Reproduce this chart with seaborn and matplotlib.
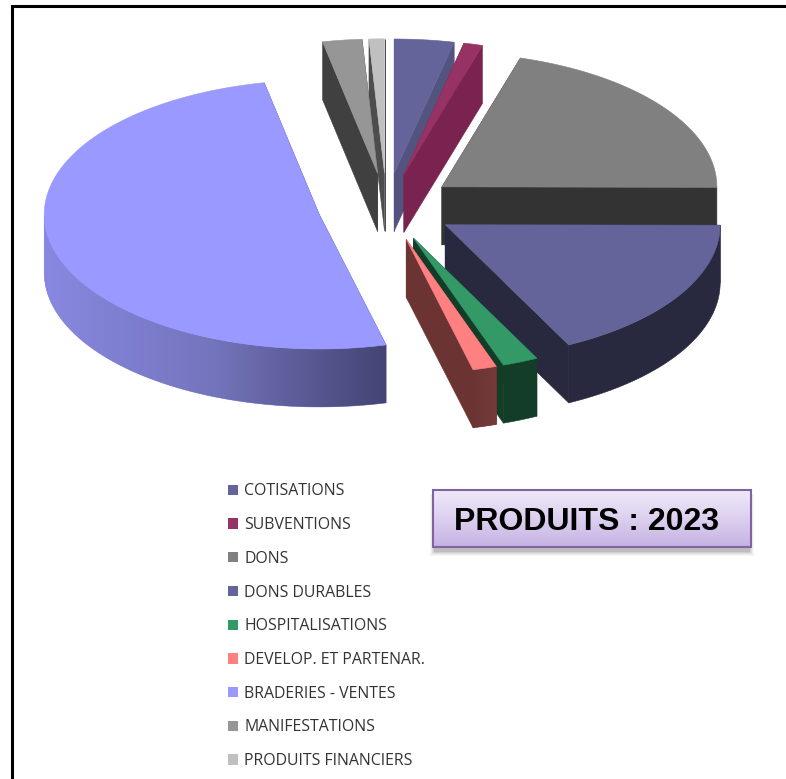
"""Produits 2023: exploded 3D pie chart with legend and title box."""

import matplotlib.pyplot as plt
import numpy as np
import seaborn as sns
from matplotlib.colors import ListedColormap
from matplotlib.patches import Patch, Polygon, Rectangle

sns.set_theme(style="white")

labels = [
    "COTISATIONS",
    "SUBVENTIONS",
    "DONS",
    "DONS DURABLES",
    "HOSPITALISATIONS",
    "DEVELOP. ET PARTENAR.",
    "BRADERIES - VENTES",
    "MANIFESTATIONS",
    "PRODUITS FINANCIERS",
]
values = [3.5, 1.1, 20.4, 17.5, 2.1, 1.4, 50.6, 2.3, 0.9]
top_colors = ["#64649a", "#963264", "#808080", "#64649a", "#339966", "#ff8080", "#9999ff", "#969696", "#c0c0c0"]
side_colors = ["#53537f", "#7a2350", "#333333", "#28283f", "#133d28", "#6b3433", "#444474", "#404040", "#4d4d4d"]
rim_colors = [
    ["#53537f"],
    ["#7a2350"],
    ["#333333"],
    ["#28283f"],
    ["#133d28"],
    ["#6b3433", "#753b3a"],
    ["#8888e0", "#7474bc", "#444474"],
    ["#404040"],
    ["#4d4d4d"],
]

CENTER = (386.5, 207)
RADIUS = 275
SQUASH = 0.489
EXPLODE = 69
DEPTH = 58


def ring(theta, apex):
    rad = np.radians(theta)
    return np.column_stack([apex[0] + RADIUS * np.sin(rad), apex[1] - SQUASH * RADIUS * np.cos(rad)])


def draw_slice(ax, start, stop, apex, top, side, rim, z):
    theta = np.linspace(start, stop, 200)
    outer = ring(theta, apex)
    # the two cut faces, hidden ones end up under the top face
    for end in (outer[0], outer[-1]):
        face = [apex, end, end + (0, DEPTH), (apex[0], apex[1] + DEPTH)]
        ax.add_patch(Polygon(face, closed=True, fc=side, ec=side, lw=0.4, zorder=z))
    # outer rim, only the part turned to the viewer, shaded left to right
    front = theta[(theta >= 90) & (theta <= 270)]
    if len(front) > 1:
        upper = ring(front, apex)
        rim_shape = Polygon(np.vstack([upper, upper[::-1] + (0, DEPTH)]), closed=True, fc=rim[0], ec=rim[0],
                            lw=0.4, zorder=z + 0.1)
        ax.add_patch(rim_shape)
        if len(rim) > 1:
            img = ax.imshow(
                np.linspace(0, 1, 128)[None, :],
                extent=(upper[:, 0].min(), upper[:, 0].max(), upper[:, 1].max() + DEPTH, upper[:, 1].min()),
                cmap=ListedColormap(sns.blend_palette(rim, n_colors=128)),
                aspect="auto",
                zorder=z + 0.2,
            )
            img.set_clip_path(rim_shape)
    ax.add_patch(Polygon(np.vstack([apex, outer]), closed=True, fc=top, ec=top, lw=0.4, zorder=z + 0.3))


fig = plt.figure(figsize=(7.86, 7.79), dpi=100)
ax = fig.add_axes([0, 0, 1, 1])
ax.axis("off")

edges = np.concatenate([[0], np.cumsum(values)]) / np.sum(values) * 360
slices = []
for i in range(len(values)):
    mid = np.radians((edges[i] + edges[i + 1]) / 2)
    apex = (CENTER[0] + EXPLODE * np.sin(mid), CENTER[1] - SQUASH * EXPLODE * np.cos(mid))
    slices.append((apex[1], i, apex))

# painter's order, the slices further back first
for step, (_, i, apex) in enumerate(sorted(slices)):
    draw_slice(ax, edges[i], edges[i + 1], apex, top_colors[i], side_colors[i], rim_colors[i], z=1 + step)

# frame, only top and left are in the picture
ax.plot([786, 11.5, 11.5], [6, 6, 779], color="black", lw=2.2, solid_joinstyle="miter", clip_on=False, zorder=20)

handles = [Patch(fc=c, ec="none") for c in top_colors]
leg = ax.legend(
    handles,
    labels,
    loc="upper left",
    bbox_to_anchor=(222, 477),
    bbox_transform=ax.transData,
    frameon=False,
    prop={"family": "Open Sans", "size": 11.4},
    labelcolor="#333333",
    handlelength=0.63,
    handleheight=0.63,
    handletextpad=0.38,
    labelspacing=1.12,
    borderpad=0.4,
    borderaxespad=0,
)
leg.set_zorder(20)

# title box with soft shadow below and vertical gradient
for grow, alpha in zip([5, 4, 3, 2, 1], [0.03, 0.04, 0.05, 0.07, 0.09]):
    ax.add_patch(Rectangle((433 - grow + 2, 490 + 4), 318 + 2 * grow - 4, 57 + grow,
                           fc="black", ec="none", alpha=alpha, zorder=21))
ramp = ListedColormap(sns.blend_palette(["#efe9f9", "#dcd0ef", "#c6b2e3"], n_colors=64))
ax.imshow(np.linspace(0, 1, 64)[:, None], extent=(433, 751, 547, 490), cmap=ramp, aspect="auto", zorder=22)
ax.add_patch(Rectangle((433, 490), 318, 57, fc="none", ec="#8064a2", lw=1.5, zorder=23))
ax.text(454, 521.5, "PRODUITS : 2023", family="Liberation Sans", weight="bold", size=23, color="black",
        ha="left", va="center", zorder=24)
ax.set_xlim(0, 786)
ax.set_ylim(779, 0)

fig.savefig("out.png", dpi=100, facecolor="white")
